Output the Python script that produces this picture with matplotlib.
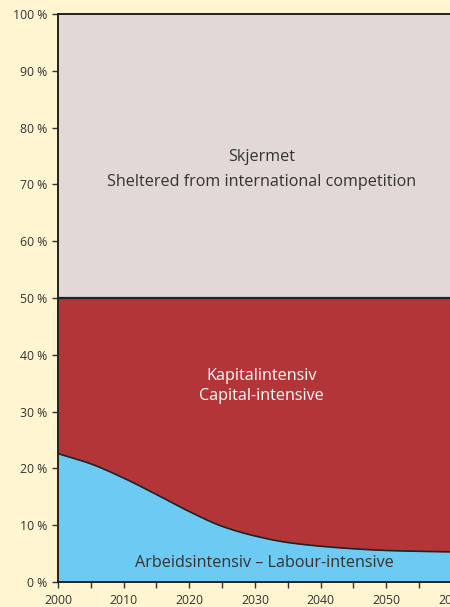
import numpy as np
import matplotlib
matplotlib.use('Agg')
import matplotlib.pyplot as plt
from matplotlib.ticker import MultipleLocator, FuncFormatter

plt.rcParams['font.family'] = ['Open Sans', 'DejaVu Sans']

years = [2000, 2005, 2010, 2015, 2020, 2025, 2030, 2035, 2040, 2045, 2050, 2055, 2060]
labour = [22.6, 20.8, 18.3, 15.4, 12.4, 9.8, 8.1, 6.95, 6.3, 5.85, 5.55, 5.4, 5.3]
capital_top = [50] * len(years)
total = [100] * len(years)

bg = '#fff5d0'
c_labour = '#6dcbf3'
c_capital = '#b43538'
c_shelter = '#e2d8d6'
txt = '#333333'


def pchip(x, y, xn):
    # monotone cubic through the read-off points
    x = np.asarray(x, float)
    y = np.asarray(y, float)
    h = np.diff(x)
    d = np.diff(y) / h
    m = np.zeros_like(y)
    for i in range(1, len(y) - 1):
        if d[i - 1] * d[i] > 0:
            w1 = 2 * h[i] + h[i - 1]
            w2 = h[i] + 2 * h[i - 1]
            m[i] = (w1 + w2) / (w1 / d[i - 1] + w2 / d[i])
    m[0] = d[0]
    m[-1] = d[-1]
    idx = np.clip(np.searchsorted(x, xn) - 1, 0, len(x) - 2)
    t = (xn - x[idx]) / h[idx]
    h00 = 2 * t**3 - 3 * t**2 + 1
    h10 = t**3 - 2 * t**2 + t
    h01 = -2 * t**3 + 3 * t**2
    h11 = t**3 - t**2
    return (h00 * y[idx] + h10 * h[idx] * m[idx] + h01 * y[idx + 1]
            + h11 * h[idx] * m[idx + 1])


xs = np.linspace(2000, 2060, 481)
ys = pchip(years, labour, xs)

fig = plt.figure(figsize=(4.5, 6.07), dpi=100, facecolor=bg)
ax = fig.add_axes([58 / 450, 1 - 582 / 607, 394 / 450, 568 / 607])
ax.set_facecolor(bg)

ax.fill_between(xs, 0, ys, color=c_labour, lw=0)
ax.fill_between(xs, ys, 50, color=c_capital, lw=0)
ax.fill_between(years, capital_top, total, color=c_shelter, lw=0)
ax.plot(xs, ys, color='#222222', lw=1.2)
ax.plot(years, capital_top, color='#222222', lw=1.6)

ax.set_xlim(2000, 2060)
ax.set_ylim(0, 100)
ax.xaxis.set_major_locator(MultipleLocator(10))
ax.xaxis.set_minor_locator(MultipleLocator(5))
ax.yaxis.set_major_locator(MultipleLocator(10))
ax.yaxis.set_major_formatter(FuncFormatter(lambda v, p: '%d %%' % v))
ax.tick_params(axis='both', which='both', direction='out', length=4, width=1,
               color='#333333', labelcolor=txt, labelsize=8.8)
ax.tick_params(axis='x', pad=5)
ax.tick_params(axis='y', pad=4)
for s in ax.spines.values():
    s.set_color('#222222')
    s.set_linewidth(1.4)

ax.text(2031.0, 72.7, 'Skjermet\nSheltered from international competition',
        ha='center', va='center', fontsize=11.6, color=txt, linespacing=1.75)
ax.text(2031.0, 34.5, 'Kapitalintensiv\nCapital-intensive',
        ha='center', va='center', fontsize=11.6, color='white', linespacing=1.4)
ax.text(2031.4, 3.3, 'Arbeidsintensiv \u2013 Labour-intensive',
        ha='center', va='center', fontsize=11.6, color=txt)

fig.savefig('out.png', dpi=100, facecolor=bg)
